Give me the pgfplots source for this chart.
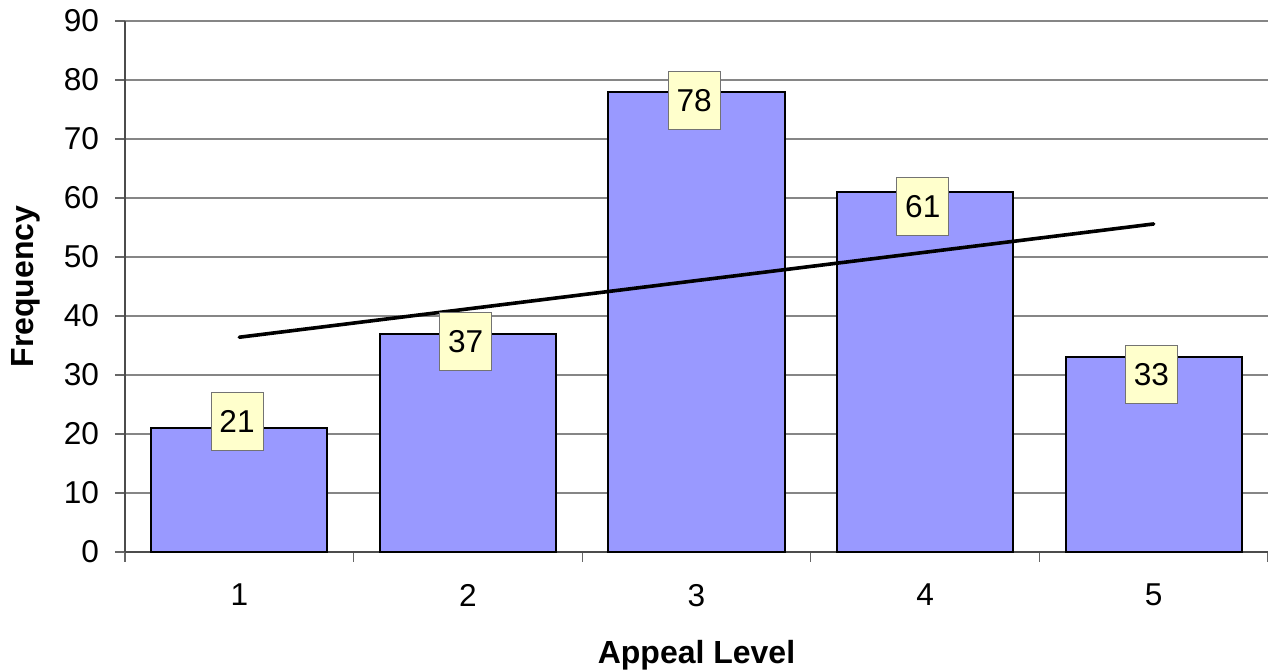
\documentclass[border=0pt]{standalone}
\usepackage{pgfplots}
\pgfplotsset{compat=1.18}
\usepackage{fontspec}
\setmainfont{Liberation Sans}
\definecolor{barblue}{HTML}{9999FF}
\definecolor{labelyellow}{HTML}{FFFFCC}
\definecolor{gridgray}{HTML}{868686}
\begin{document}
\begin{tikzpicture}
\begin{axis}[
  name=ax,
  scale only axis, width=571.5pt, height=265.5pt,
  xmin=0.5, xmax=5.5, ymin=0, ymax=90,
  axis lines*=left,
  axis line style={draw=black!70, line width=0.8pt},
  xtick={0.5,1.5,2.5,3.5,4.5,5.5},
  x tick label as interval,
  xticklabels={1,2,3,4,5},
  ytick={0,10,...,90},
  tick align=outside,
  major tick length=5pt,
  tick style={draw=black!60, line width=0.6pt},
  ymajorgrids,
  grid style={draw=gridgray, line width=0.6pt},
  /pgf/number format/assume math mode=true,
  tick label style={font=\fontsize{15.8}{18}\selectfont},
  yticklabel style={xshift=-4.5pt},
  xticklabel style={yshift=-7.5pt},
  every axis y label/.style={at={(axis description cs:0,0.5)}, xshift=-49.5pt, rotate=90, anchor=center},
  every axis x label/.style={at={(axis description cs:0.5,0)}, anchor=center, yshift=-51.5pt},
  label style={font=\fontsize{16}{19}\selectfont\bfseries},
  xlabel={Appeal Level},
  ylabel={Frequency},
  clip=false,
]
\addplot[ybar, bar width=0.77, fill=barblue, draw=black, line width=1pt]
  coordinates {(1,21) (2,37) (3,78) (4,61) (5,33)};
\addplot[black, line width=1.8pt, line cap=round, mark=none]
  coordinates {(1,36.4) (5,55.6)};
\addplot[draw=none, mark=none, nodes near coords, point meta=explicit symbolic,
  every node near coord/.style={anchor=center, fill=labelyellow, draw=black!55, line width=0.5pt,
    minimum width=26pt, minimum height=29pt, inner sep=0pt, font=\fontsize{15.8}{18}\selectfont}]
  coordinates {(0.99,22.2) [21] (1.99,35.6) [37] (2.99,76.5) [78] (3.99,58.5) [61] (4.99,30.1) [33]};
\end{axis}
\pgfresetboundingbox
\useasboundingbox ([shift={(-62.5pt,-59.5pt)}]ax.south west) rectangle ([shift={(0pt,10.5pt)}]ax.north east);
\end{tikzpicture}
\end{document}
